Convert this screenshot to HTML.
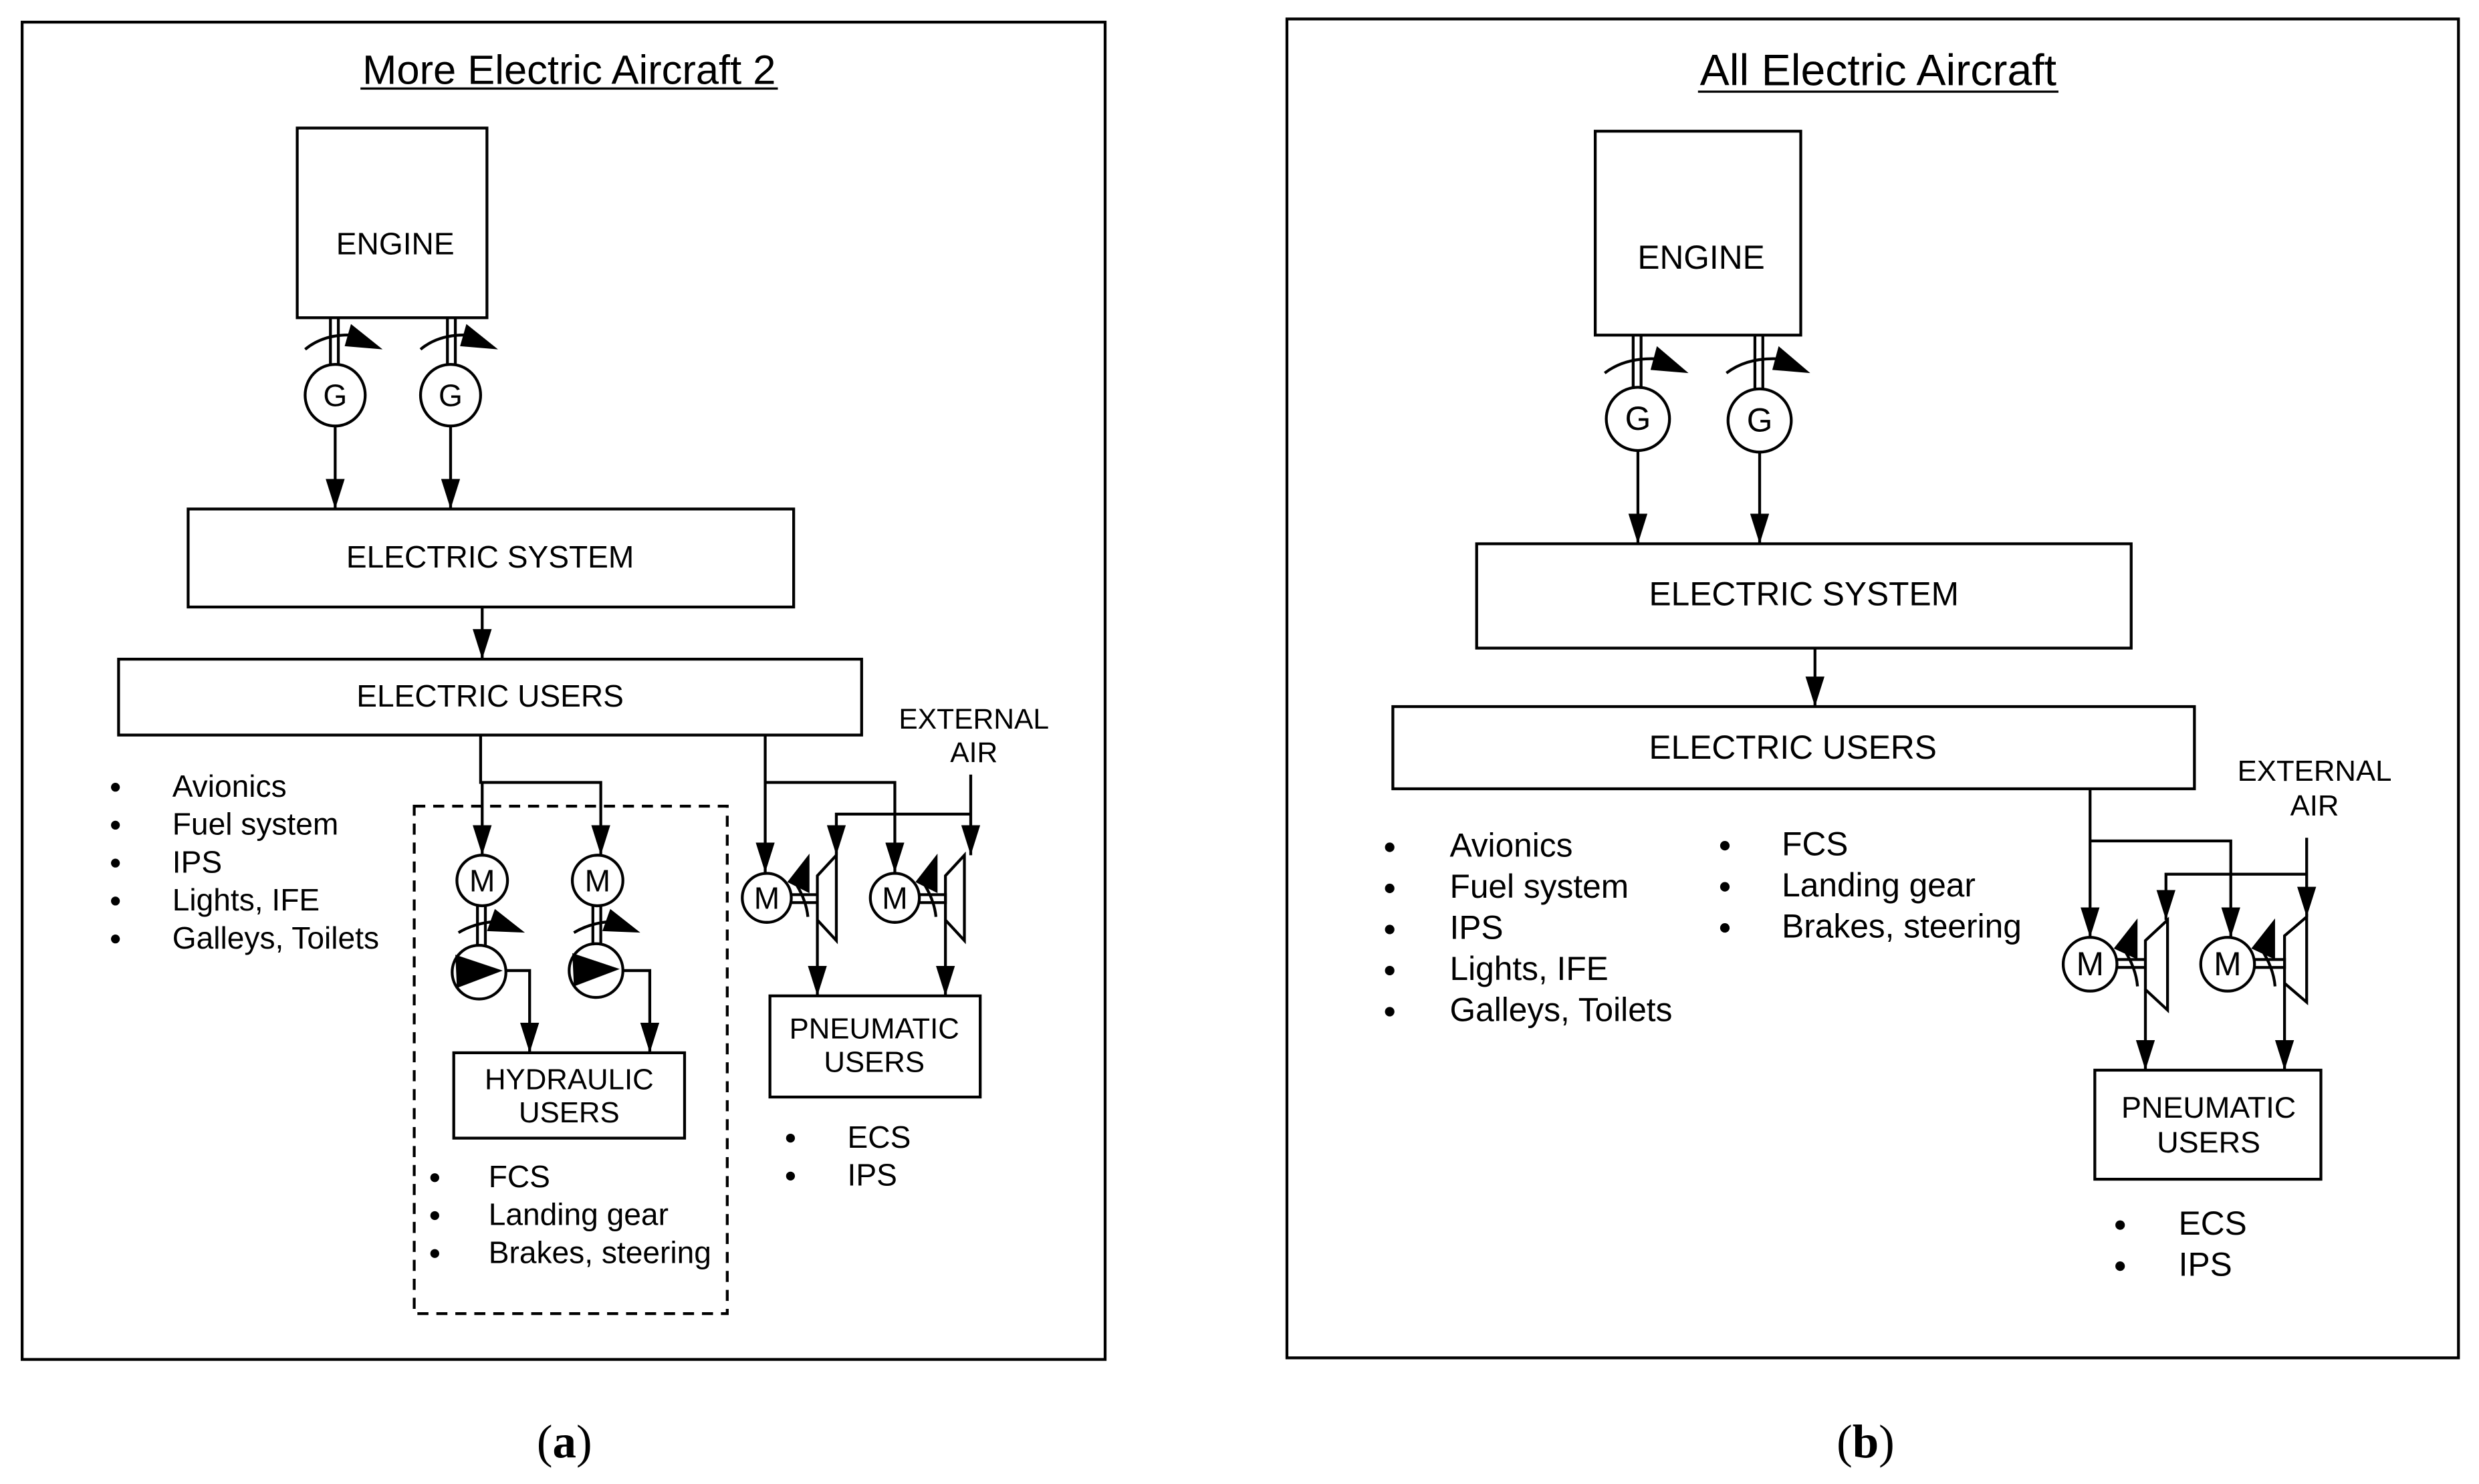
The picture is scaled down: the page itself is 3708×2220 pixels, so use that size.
<!DOCTYPE html>
<html><head><meta charset="utf-8"><style>
html,body{margin:0;padding:0;background:#fff}
svg{display:block}
text{font-family:"Liberation Sans",Arial,sans-serif;fill:#000}
</style></head><body>
<svg width="3708" height="2220" viewBox="0 0 1568 938.8" preserveAspectRatio="none" xmlns="http://www.w3.org/2000/svg">
<defs>
<marker id="ar" markerUnits="userSpaceOnUse" markerWidth="20" markerHeight="12" refX="19" refY="6" orient="auto">
<path d="M0,0 L19,6 L0,12 z" fill="#000"/>
</marker>
</defs>
<g fill="none" stroke="#000" stroke-width="1.8">
<!-- LEFT PANEL -->
<rect x="14" y="14" width="685" height="846"/>
<rect x="188" y="81" width="120" height="120"/>
<rect x="119" y="322" width="383" height="62"/>
<rect x="75" y="417" width="470" height="48"/>
<rect x="262" y="510" width="198" height="321" stroke-dasharray="7,5"/>
<rect x="287" y="666" width="146" height="54"/>
<rect x="487" y="630" width="133" height="64"/>
<line x1="209" y1="201" x2="209" y2="231"/><line x1="214" y1="201" x2="214" y2="231"/>
<line x1="283" y1="201" x2="283" y2="231"/><line x1="288" y1="201" x2="288" y2="231"/>
<ellipse cx="212" cy="250" rx="19" ry="19.5"/>
<ellipse cx="285" cy="250" rx="19" ry="19.5"/>
<path d="M193,221 Q205,211 224,212"/>
<path d="M266,221 Q278,211 297,212"/>
<line x1="212" y1="270" x2="212" y2="322" marker-end="url(#ar)"/>
<line x1="285" y1="270" x2="285" y2="322" marker-end="url(#ar)"/>
<line x1="305" y1="384" x2="305" y2="417" marker-end="url(#ar)"/>
<polyline points="304,465 304,495 380,495 380,541" marker-end="url(#ar)"/>
<line x1="305" y1="495" x2="305" y2="541" marker-end="url(#ar)"/>
<circle cx="305" cy="557" r="16"/>
<circle cx="378" cy="557" r="16"/>
<line x1="302" y1="573" x2="302" y2="598"/><line x1="307" y1="573" x2="307" y2="598"/>
<line x1="375" y1="573" x2="375" y2="598"/><line x1="380" y1="573" x2="380" y2="598"/>
<path d="M290,590 Q300,584 313,583"/>
<path d="M363,590 Q373,584 386,583"/>
<circle cx="303" cy="615" r="17"/>
<circle cx="377" cy="614" r="17"/>
<polyline points="320,614 335,614 335,666" marker-end="url(#ar)"/>
<polyline points="394,614 411,614 411,666" marker-end="url(#ar)"/>
<line x1="484" y1="465" x2="484" y2="552" marker-end="url(#ar)"/>
<polyline points="484,495 566,495 566,552" marker-end="url(#ar)"/>
<circle cx="485" cy="568" r="15.5"/>
<circle cx="566" cy="568" r="15.5"/>
<line x1="614" y1="490" x2="614" y2="541" marker-end="url(#ar)"/>
<polyline points="614,515 529,515 529,541" marker-end="url(#ar)"/>
<polygon points="517,554 529,541 529,595 517,582"/>
<polygon points="598,554 610,541 610,595 598,582"/>
<line x1="500" y1="566" x2="517" y2="566"/><line x1="500" y1="571" x2="517" y2="571"/>
<path d="M581,566 L598,566 L598,571 L581,571"/>
<path d="M504,560 Q510,570 511,580"/>
<path d="M585,560 Q591,570 592,580"/>
<line x1="517" y1="582" x2="517" y2="630" marker-end="url(#ar)"/>
<line x1="598" y1="582" x2="598" y2="630" marker-end="url(#ar)"/>
<!-- RIGHT PANEL -->
<rect x="814" y="12" width="741" height="847"/>
<rect x="1009" y="83" width="130" height="129"/>
<rect x="934" y="344" width="414" height="66"/>
<rect x="881" y="447" width="507" height="52"/>
<rect x="1325" y="677" width="143" height="69"/>
<line x1="1033" y1="212" x2="1033" y2="246"/><line x1="1038" y1="212" x2="1038" y2="246"/>
<line x1="1110" y1="212" x2="1110" y2="246"/><line x1="1115" y1="212" x2="1115" y2="246"/>
<circle cx="1036" cy="265" r="20"/>
<circle cx="1113" cy="266" r="20"/>
<path d="M1015,236 Q1028,226 1048,227"/>
<path d="M1092,236 Q1105,226 1125,227"/>
<line x1="1036" y1="285" x2="1036" y2="344" marker-end="url(#ar)"/>
<line x1="1113" y1="286" x2="1113" y2="344" marker-end="url(#ar)"/>
<line x1="1148" y1="410" x2="1148" y2="447" marker-end="url(#ar)"/>
<line x1="1322" y1="499" x2="1322" y2="593" marker-end="url(#ar)"/>
<polyline points="1322,532 1411,532 1411,593" marker-end="url(#ar)"/>
<circle cx="1322" cy="610" r="17"/>
<circle cx="1409" cy="610" r="17"/>
<line x1="1459" y1="530" x2="1459" y2="580" marker-end="url(#ar)"/>
<polyline points="1459,553 1370,553 1370,582" marker-end="url(#ar)"/>
<polygon points="1357,595 1371,582 1371,639 1357,626"/>
<polygon points="1445,592 1459,580 1459,634 1445,622"/>
<line x1="1339" y1="607" x2="1357" y2="607"/><line x1="1339" y1="612" x2="1357" y2="612"/>
<path d="M1426,607 L1445,607 L1445,612 L1426,612"/>
<path d="M1343,600 Q1351,612 1352,624"/>
<path d="M1430,600 Q1438,612 1439,624"/>
<line x1="1357" y1="626" x2="1357" y2="677" marker-end="url(#ar)"/>
<line x1="1445" y1="622" x2="1445" y2="677" marker-end="url(#ar)"/>
</g>
<g fill="#000" stroke="none">
<polygon points="222,205 242,221 218,219"/>
<polygon points="295,205 315,221 291,219"/>
<polygon points="1048,219 1068,236 1044,234"/>
<polygon points="1125,219 1145,236 1121,234"/>
<polygon points="313,575 332,590 308,589"/>
<polygon points="386,575 405,590 381,589"/>
<polygon points="288,604 318,614 289,625"/>
<polygon points="362,603 392,613 363,624"/>
<polygon points="512,540 512,565 498,558"/>
<polygon points="593,540 593,565 579,558"/>
<polygon points="1352,581 1352,607 1337,600"/>
<polygon points="1439,581 1439,607 1424,600"/>
</g>
<text x="360" y="53" font-size="26" text-anchor="middle">More Electric Aircraft 2</text>
<line x1="228" y1="56" x2="492" y2="56" stroke="#000" stroke-width="1.4"/>
<g font-size="19.5">
<text x="250" y="161" text-anchor="middle">ENGINE</text>
<text x="212" y="257" text-anchor="middle">G</text>
<text x="285" y="257" text-anchor="middle">G</text>
<text x="310" y="359" text-anchor="middle">ELECTRIC SYSTEM</text>
<text x="310" y="447" text-anchor="middle">ELECTRIC USERS</text>
<text x="616" y="461" text-anchor="middle" font-size="18">EXTERNAL</text>
<text x="616" y="482" text-anchor="middle" font-size="18">AIR</text>
<text x="305" y="564" text-anchor="middle">M</text>
<text x="378" y="564" text-anchor="middle">M</text>
<text x="485" y="575" text-anchor="middle">M</text>
<text x="566" y="575" text-anchor="middle">M</text>
<text x="360" y="689" text-anchor="middle" font-size="18.5">HYDRAULIC</text>
<text x="360" y="710" text-anchor="middle" font-size="18.5">USERS</text>
<text x="553" y="657" text-anchor="middle" font-size="18.5">PNEUMATIC</text>
<text x="553" y="678" text-anchor="middle" font-size="18.5">USERS</text>
<text x="109" y="504">Avionics</text>
<text x="109" y="528">Fuel system</text>
<text x="109" y="552">IPS</text>
<text x="109" y="576">Lights, IFE</text>
<text x="109" y="600">Galleys, Toilets</text>
<text x="309" y="751">FCS</text>
<text x="309" y="775">Landing gear</text>
<text x="309" y="799">Brakes, steering</text>
<text x="536" y="726">ECS</text>
<text x="536" y="750">IPS</text>
</g>
<g fill="#000">
<circle cx="73" cy="498" r="2.8"/><circle cx="73" cy="522" r="2.8"/><circle cx="73" cy="546" r="2.8"/><circle cx="73" cy="570" r="2.8"/><circle cx="73" cy="594" r="2.8"/>
<circle cx="275" cy="745" r="2.8"/><circle cx="275" cy="769" r="2.8"/><circle cx="275" cy="793" r="2.8"/>
<circle cx="500" cy="720" r="2.8"/><circle cx="500" cy="744" r="2.8"/>
<circle cx="879" cy="536" r="3"/><circle cx="879" cy="562" r="3"/><circle cx="879" cy="588" r="3"/><circle cx="879" cy="614" r="3"/><circle cx="879" cy="640" r="3"/>
<circle cx="1091" cy="535" r="3"/><circle cx="1091" cy="561" r="3"/><circle cx="1091" cy="587" r="3"/>
<circle cx="1341" cy="775" r="3"/><circle cx="1341" cy="801" r="3"/>
</g>
<text x="1188" y="54" font-size="28" text-anchor="middle">All Electric Aircraft</text>
<line x1="1074" y1="58" x2="1302" y2="58" stroke="#000" stroke-width="1.4"/>
<g font-size="21">
<text x="1076" y="170" text-anchor="middle">ENGINE</text>
<text x="1036" y="272" text-anchor="middle">G</text>
<text x="1113" y="273" text-anchor="middle">G</text>
<text x="1141" y="383" text-anchor="middle">ELECTRIC SYSTEM</text>
<text x="1134" y="480" text-anchor="middle">ELECTRIC USERS</text>
<text x="1464" y="494" text-anchor="middle" font-size="18.5">EXTERNAL</text>
<text x="1464" y="516" text-anchor="middle" font-size="18.5">AIR</text>
<text x="1322" y="617" text-anchor="middle">M</text>
<text x="1409" y="617" text-anchor="middle">M</text>
<text x="1397" y="707" text-anchor="middle" font-size="19">PNEUMATIC</text>
<text x="1397" y="729" text-anchor="middle" font-size="19">USERS</text>
<text x="917" y="542">Avionics</text>
<text x="917" y="568">Fuel system</text>
<text x="917" y="594">IPS</text>
<text x="917" y="620">Lights, IFE</text>
<text x="917" y="646">Galleys, Toilets</text>
<text x="1127" y="541">FCS</text>
<text x="1127" y="567">Landing gear</text>
<text x="1127" y="593">Brakes, steering</text>
<text x="1378" y="781">ECS</text>
<text x="1378" y="807">IPS</text>
</g>
<text x="357" y="922" font-size="30" text-anchor="middle" style="font-family:'Liberation Serif',serif">(<tspan font-weight="bold">a</tspan>)</text>
<text x="1180" y="922" font-size="30" text-anchor="middle" style="font-family:'Liberation Serif',serif">(<tspan font-weight="bold">b</tspan>)</text>
</svg>
</body></html>
